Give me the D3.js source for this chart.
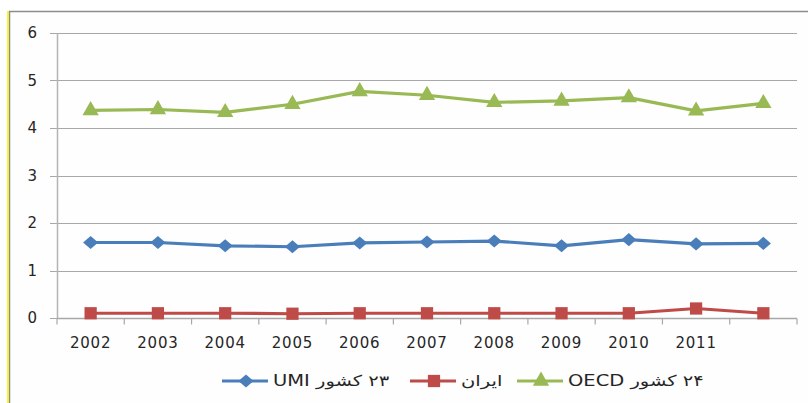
<!DOCTYPE html>
<html>
<head>
<meta charset="utf-8">
<script src="https://cdn.jsdelivr.net/npm/d3@7"></script>
<style>
  body { margin: 0; background: #fff; }
  svg { display: block; font-family: "DejaVu Sans", sans-serif; }
</style>
</head>
<body>
<div id="chart"></div>
<script>
// category labels (the last point has no label in the original)
const xLabels = ["2002", "2003", "2004", "2005", "2006", "2007", "2008", "2009", "2010", "2011", ""];
const yTicks = [0, 1, 2, 3, 4, 5, 6];

const umi = [1.59, 1.59, 1.52, 1.50, 1.58, 1.60, 1.62, 1.52, 1.65, 1.56, 1.57];
const iran = [0.10, 0.10, 0.10, 0.09, 0.10, 0.10, 0.10, 0.10, 0.10, 0.20, 0.10];
const oecd = [4.37, 4.39, 4.33, 4.50, 4.77, 4.69, 4.54, 4.57, 4.64, 4.36, 4.52];

const seriesNames = ["UMI \u2067۲۳ کشور\u2069", "ایران", "OECD \u2067۲۴ کشور\u2069"];

const series = [
    { name: seriesNames[0], values: umi, color: "#4a7ebb", marker: "diamond" },
    { name: seriesNames[1], values: iran, color: "#be4b48", marker: "square" },
    { name: seriesNames[2], values: oecd, color: "#98b954", marker: "triangle" },
];

const width = 808;
const height = 403;
const margin = { top: 33, right: 11, bottom: 85, left: 57 };

const svg = d3.select("#chart").append("svg").attr("width", width).attr("height", height);

// chart frame
svg.append("rect")
    .attr("x", 9.5)
    .attr("y", 11.5)
    .attr("width", width)
    .attr("height", height)
    .attr("fill", "#fefefe")
    .attr("stroke", "#8c8c8c")
    .attr("stroke-width", 1.5);
svg.append("line")
    .attr("x1", 8)
    .attr("x2", 8)
    .attr("y1", 11)
    .attr("y2", height)
    .attr("stroke", "#f5f000")
    .attr("stroke-width", 1.5);

const idx = d3.range(xLabels.length);
const x = d3
    .scaleBand()
    .domain(idx)
    .range([margin.left, width - margin.right])
    .paddingInner(0)
    .paddingOuter(0);
const cx = i => x(i) + x.bandwidth() / 2;

const y = d3
    .scaleLinear()
    .domain([0, 6])
    .range([height - margin.bottom, margin.top]);

// gridlines + y ticks
svg.append("g")
    .selectAll("line")
    .data(yTicks)
    .join("line")
    .attr("x1", margin.left - 7)
    .attr("x2", width - margin.right)
    .attr("y1", d => Math.round(y(d)) + 0.5)
    .attr("y2", d => Math.round(y(d)) + 0.5)
    .attr("stroke", "#a8a8a8")
    .attr("stroke-width", 1.2);

svg.append("g")
    .selectAll("text")
    .data(yTicks)
    .join("text")
    .attr("x", 37)
    .attr("y", d => y(d))
    .attr("dy", "0.36em")
    .attr("text-anchor", "end")
    .attr("font-size", 15)
    .attr("fill", "#262626")
    .text(d => d);

// y axis line
svg.append("line")
    .attr("x1", margin.left + 0.5)
    .attr("x2", margin.left + 0.5)
    .attr("y1", margin.top)
    .attr("y2", y(0))
    .attr("stroke", "#b4b4b4")
    .attr("stroke-width", 1.5);

// x axis line and tick marks
const y0 = Math.round(y(0)) + 0.5;
svg.append("line")
    .attr("x1", margin.left)
    .attr("x2", width - margin.right)
    .attr("y1", y0)
    .attr("y2", y0)
    .attr("stroke", "#a8a8a8")
    .attr("stroke-width", 1.5);
svg.append("g")
    .selectAll("line")
    .data(d3.range(xLabels.length + 1))
    .join("line")
    .attr("x1", i => (i < xLabels.length ? x(i) : width - margin.right))
    .attr("x2", i => (i < xLabels.length ? x(i) : width - margin.right))
    .attr("y1", y0)
    .attr("y2", y0 + 6)
    .attr("stroke", "#a8a8a8")
    .attr("stroke-width", 1.2);

svg.append("g")
    .selectAll("text")
    .data(idx)
    .join("text")
    .attr("x", i => cx(i))
    .attr("y", 348)
    .attr("text-anchor", "middle")
    .attr("font-size", 15)
    .attr("letter-spacing", 0.8)
    .attr("fill", "#262626")
    .text(i => xLabels[i]);

const markerPath = {
    diamond: d3.symbol(d3.symbolDiamond2, 110),
    square: d3.symbol(d3.symbolSquare, 150),
    triangle: d3.symbol(d3.symbolTriangle, 115),
};

const line = d3
    .line()
    .x((d, i) => cx(i))
    .y(d => y(d));

series.forEach(s => {
    const g = svg.append("g");
    g.append("path")
        .attr("d", line(s.values))
        .attr("fill", "none")
        .attr("stroke", s.color)
        .attr("stroke-width", 3.2)
        .attr("stroke-linejoin", "round");
    g.selectAll("path.m")
        .data(s.values)
        .join("path")
        .attr("class", "m")
        .attr("transform", (d, i) => `translate(${cx(i)},${y(d)})${s.marker === "diamond" ? " scale(1.15,1)" : ""}`)
        .attr("d", markerPath[s.marker]())
        .attr("fill", s.color);
});

// legend (text is drawn wide, like the stretched original)
const legendX = [222, 410, 517];
const legend = svg.append("g");
series.forEach((s, k) => {
    const lx = legendX[k];
    const ly = 381;
    legend.append("line")
        .attr("x1", lx)
        .attr("x2", lx + 46)
        .attr("y1", ly)
        .attr("y2", ly)
        .attr("stroke", s.color)
        .attr("stroke-width", 3.2);
    legend.append("path")
        .attr("transform", `translate(${lx + 24},${ly})${s.marker === "diamond" ? " scale(1.15,1)" : ""}`)
        .attr("d", markerPath[s.marker]())
        .attr("fill", s.color);
    legend.append("text")
        .attr("transform", `translate(${lx + 51},${ly}) scale(1.3,1)`)
        .attr("dy", "0.36em")
        .attr("font-size", 15)
        .attr("fill", "#262626")
        .text(s.name);
});
</script>
</body>
</html>
